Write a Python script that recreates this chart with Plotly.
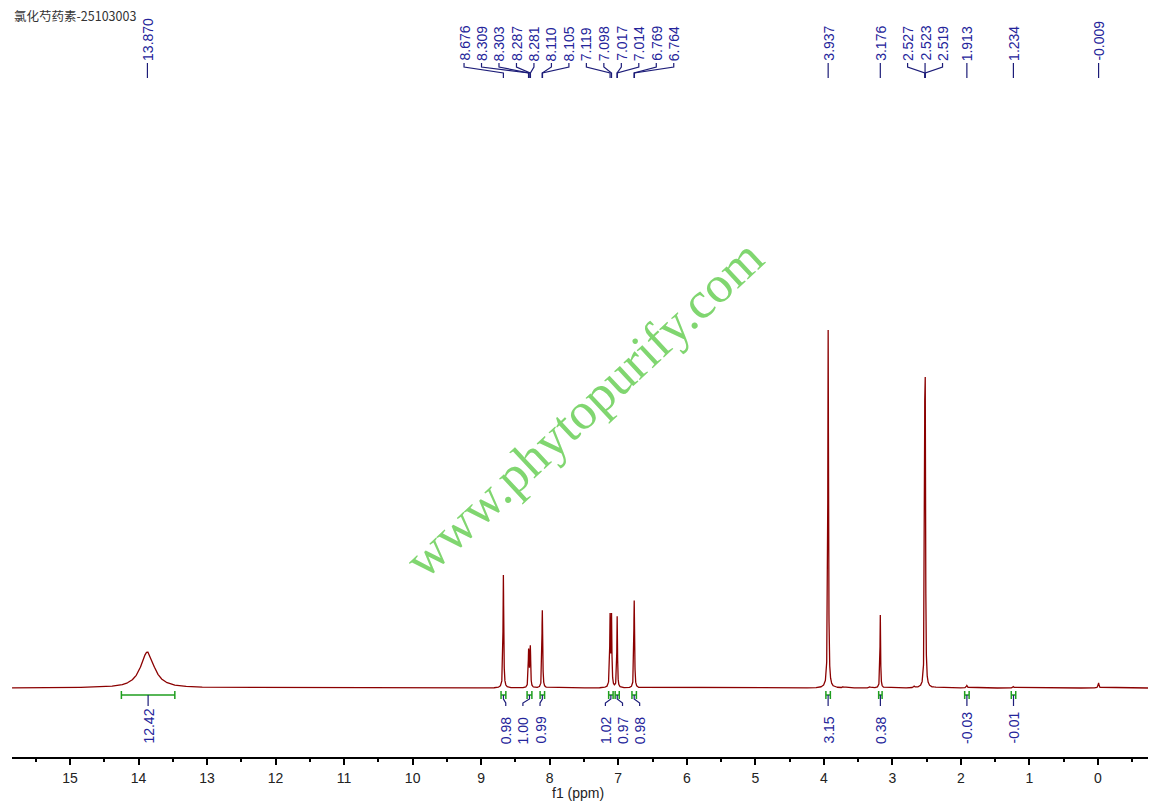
import numpy as np
import plotly.graph_objects as go

# ---------------- data ----------------
title_text = "氯化芍药素-25103003"
watermark = "www.phytopurify.com"

# labelled peaks: chemical shift (ppm), apparent height (baseline = 0), half-width (ppm)
peak_ppm = [13.870, 8.676, 8.309, 8.303, 8.287, 8.281, 8.110, 8.105,
            7.119, 7.098, 7.017, 7.014, 6.769, 6.764,
            3.937, 3.176, 2.527, 2.523, 2.519, 1.913, 1.234, -0.009]
peak_height = [36, 113, 38, 38, 41, 41, 73, 73,
               75, 75, 68, 68, 82, 82,
               358, 73, 300, 306, 300, 2.5, 1.5, 5]
peak_hwhm = [0.12, 0.006, 0.005, 0.005, 0.005, 0.005, 0.005, 0.005,
             0.006, 0.006, 0.005, 0.005, 0.005, 0.005,
             0.006, 0.005, 0.005, 0.005, 0.005, 0.01, 0.01, 0.008]
# label groups (indices into peak_ppm) for the spread-out shift labels
peak_label_groups = [[0], list(range(1, 14)), [14], [15], [16, 17, 18], [19], [20], [21]]

# small unlabelled impurity bumps
minor_ppm = [3.85, 3.72, 3.33, 2.68, 2.38]
minor_height = [1.5, 1.2, 1.2, 2.0, 1.5]

# integrals: start / end (ppm) and value
integral_start = [14.25, 8.71, 8.33, 8.14, 7.14, 7.045, 6.80, 3.97, 3.20, 1.945, 1.265]
integral_end = [13.47, 8.64, 8.26, 8.075, 7.075, 6.985, 6.735, 3.905, 3.15, 1.88, 1.20]
integral_value = ["12.42", "0.98", "1.00", "0.99", "1.02", "0.97", "0.98", "3.15", "0.38", "-0.03", "-0.01"]
integral_label_groups = [[0], [1, 2, 3], [4, 5, 6], [7], [8], [9], [10]]

x_ticks = list(range(0, 16))
x_range = [15.846, -0.73]

# ---------------- styling ----------------
SPEC_COLOR = "#8b0000"
LABEL_COLOR = "#24249a"
LINE_NAVY = "#1c1c78"
INT_GREEN = "#1f9e1f"
PEAK_SPACING = 0.255
INT_SPACING = 0.25

# ---------------- spectrum ----------------
all_ppm = np.array(peak_ppm + minor_ppm, dtype=float)
all_h = np.array(peak_height + minor_height, dtype=float)
all_w = np.array(peak_hwhm + [0.01] * len(minor_ppm), dtype=float)


def lor(x, c, w):
    return 1.0 / (1.0 + ((x - c) / w) ** 2)


M = lor(all_ppm[:, None], all_ppm[None, :], all_w[None, :])
amps = np.linalg.solve(M, all_h)

xs = np.arange(x_range[1], x_range[0], 0.0008)
xs = np.union1d(xs, all_ppm)
ys = (amps[None, :] * lor(xs[:, None], all_ppm[None, :], all_w[None, :])).sum(axis=1)

fig = go.Figure()
fig.add_trace(go.Scatter(x=xs, y=ys, mode="lines",
                         line=dict(color=SPEC_COLOR, width=1.3),
                         hoverinfo="skip", showlegend=False))


def spread(centers, groups, spacing):
    pos = [None] * len(centers)
    for g in groups:
        mid = (centers[g[0]] + centers[g[-1]]) / 2.0
        n = len(g)
        for k, idx in enumerate(g):
            pos[idx] = mid + ((n - 1) / 2.0 - k) * spacing
    return pos


# ---------------- top shift labels ----------------
lab_pos = spread(peak_ppm, peak_label_groups, PEAK_SPACING)
cx, cy = [], []
for p, L in zip(peak_ppm, lab_pos):
    cx += [L, L, p, p, None]
    cy += [625, 621, 615, 610, None]
fig.add_trace(go.Scatter(x=cx, y=cy, mode="lines", line=dict(color=LINE_NAVY, width=1.2),
                         hoverinfo="skip", showlegend=False))
for p, L in zip(peak_ppm, lab_pos):
    fig.add_annotation(x=L, y=626, xref="x", yref="y", text=f"{p:.3f}", showarrow=False,
                       textangle=-90, xanchor="center", yanchor="bottom",
                       font=dict(family="Arial, Liberation Sans", size=14, color=LABEL_COLOR),
                       borderpad=0)

# ---------------- integrals ----------------
int_mid = [(a + b) / 2.0 for a, b in zip(integral_start, integral_end)]
int_pos = spread(int_mid, integral_label_groups, INT_SPACING)
gx, gy = [], []
for a, b in zip(integral_start, integral_end):
    gx += [a, b, None, a, a, None, b, b, None]
    gy += [-7, -7, None, -3, -11, None, -3, -11, None]
fig.add_trace(go.Scatter(x=gx, y=gy, mode="lines", line=dict(color=INT_GREEN, width=1.5),
                         hoverinfo="skip", showlegend=False))
bx, by = [], []
for m, L in zip(int_mid, int_pos):
    bx += [m, m, L, L, None]
    by += [-7, -11, -15, -18, None]
fig.add_trace(go.Scatter(x=bx, y=by, mode="lines", line=dict(color=LINE_NAVY, width=1.2),
                         hoverinfo="skip", showlegend=False))
for v, L in zip(integral_value, int_pos):
    fig.add_annotation(x=L, y=-57, xref="x", yref="y", text=v, showarrow=False,
                       textangle=-90, xanchor="center", yanchor="bottom",
                       font=dict(family="Arial, Liberation Sans", size=14, color=LABEL_COLOR),
                       borderpad=0)

# ---------------- title, watermark, axis title ----------------
fig.add_annotation(x=0.0, y=(757 - 15) / 757, xref="paper", yref="paper", text=title_text,
                   showarrow=False, xanchor="left", yanchor="middle",
                   font=dict(family="Noto Sans CJK SC", size=12.5, color="#333333"))
fig.add_annotation(x=(584 - 12) / 1137, y=(757 - 408) / 757, xref="paper", yref="paper",
                   text=watermark, showarrow=False, textangle=-43,
                   font=dict(family="Liberation Serif, Times New Roman", size=52, color="#80d670"))
fig.add_annotation(x=(578 - 12) / 1137, y=-(793 - 757) / 757, xref="paper", yref="paper",
                   text="f1 (ppm)", showarrow=False, xanchor="center", yanchor="middle",
                   font=dict(family="Arial, Liberation Sans", size=14, color="#222222"))

fig.update_layout(
    width=1157, height=808,
    margin=dict(l=12, r=9, t=0, b=51),
    paper_bgcolor="white", plot_bgcolor="white",
    showlegend=False,
    xaxis=dict(range=x_range, tickvals=x_ticks, ticktext=[str(t) for t in x_ticks],
               showline=True, linecolor="black", linewidth=1.5,
               ticks="outside", ticklen=6, tickwidth=1.5, tickcolor="black",
               minor=dict(ticks="outside", ticklen=3, tickwidth=1.5, tickcolor="black",
                          dtick=0.5, tick0=0, showgrid=False),
               showgrid=False, zeroline=False, ticklabelstandoff=1,
               tickfont=dict(family="Arial, Liberation Sans", size=14, color="#222222")),
    yaxis=dict(range=[-69, 688], visible=False, showgrid=False, zeroline=False),
)

fig.write_html("out.html", config={"displayModeBar": False},
               post_script="document.body.style.margin='0';document.body.style.overflow='hidden';")
